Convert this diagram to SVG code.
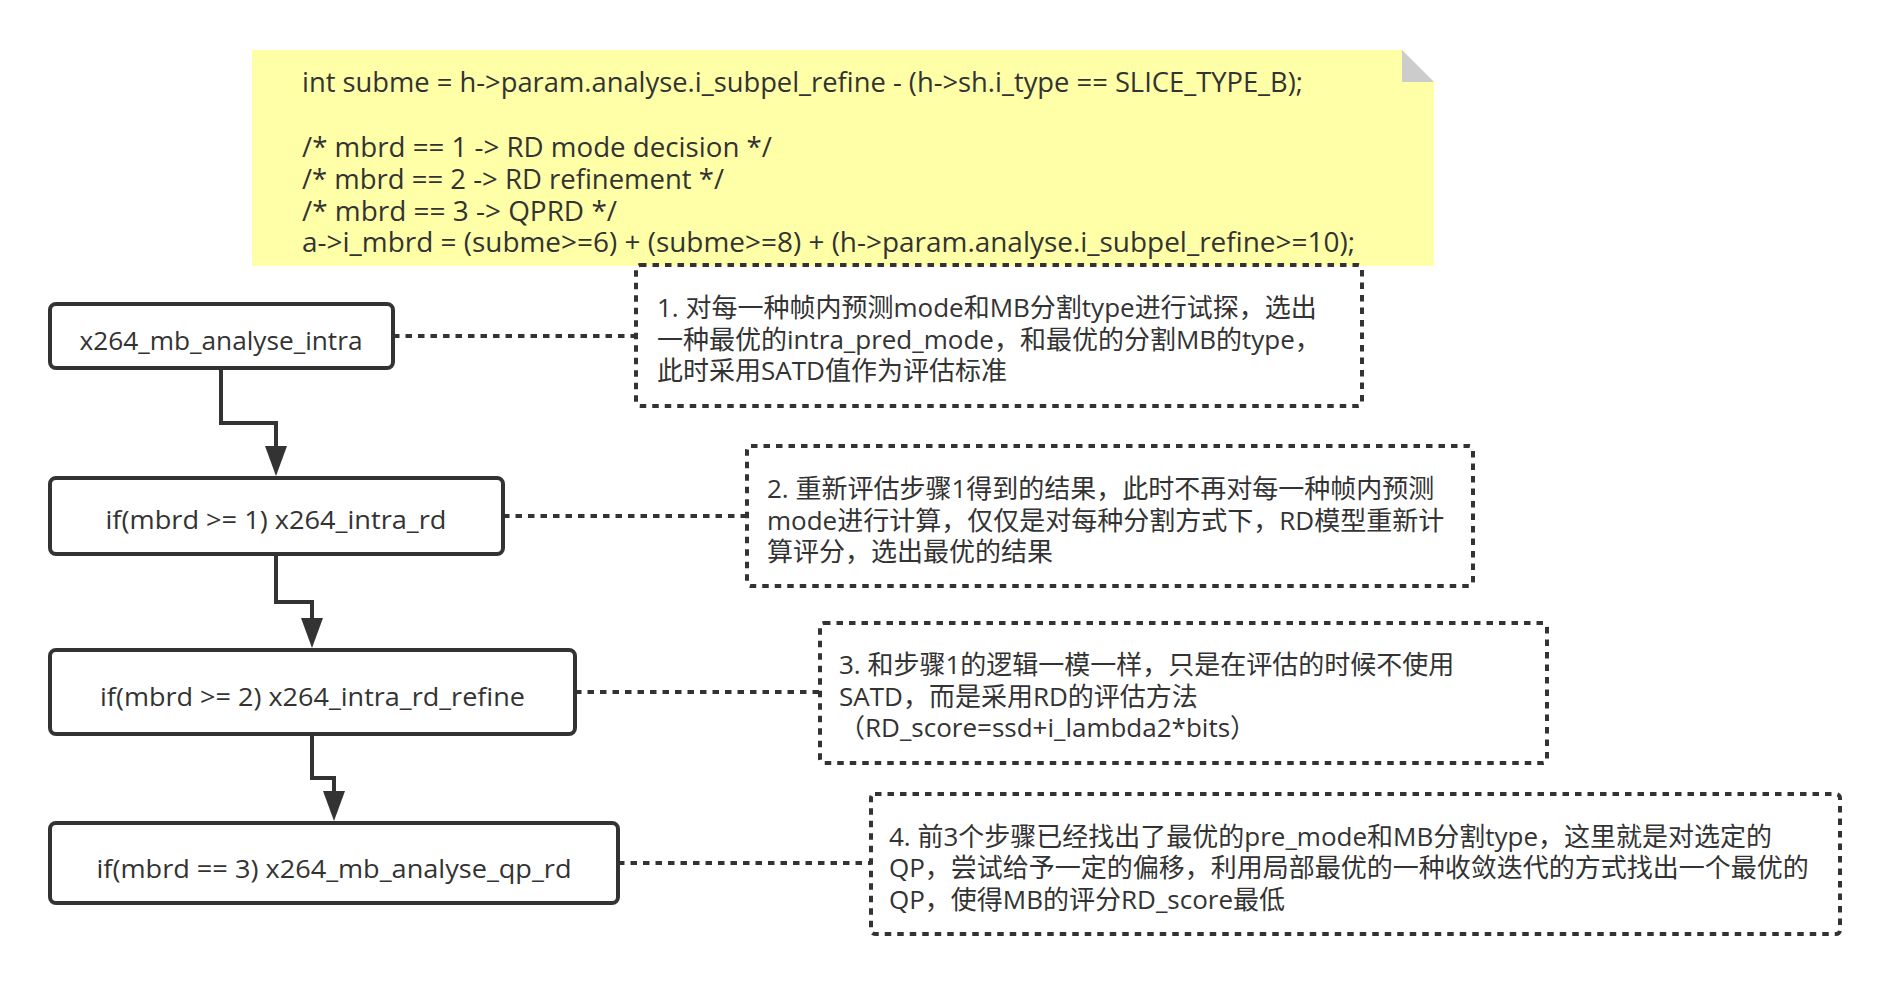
<svg xmlns="http://www.w3.org/2000/svg" width="1890" height="984" viewBox="0 0 1890 984">
<defs>
<style>
.t{font-family:"Open Sans","Noto Sans CJK SC",sans-serif;fill:#333333;}
.code{font-size:27px;}
.lbl{font-size:26px;text-anchor:middle;}
.nt{font-size:26px;}
.box{fill:#ffffff;stroke:#333333;stroke-width:4;}
.dbox{fill:none;stroke:#333333;stroke-width:4;stroke-dasharray:6.5 6;}
.dline{fill:none;stroke:#333333;stroke-width:4;stroke-dasharray:6.5 6;}
.edge{fill:none;stroke:#333333;stroke-width:4;}
</style>
<marker id="arr" markerUnits="userSpaceOnUse" markerWidth="32" markerHeight="22" viewBox="0 0 32 22" refX="0" refY="11" orient="auto">
<path d="M0,0 L30,11 L0,22 Z" fill="#333333"/>
</marker>
</defs>
<rect width="1890" height="984" fill="#ffffff"/>

<g id="code-note">
<path d="M252,50 L1402,50 L1434,82 L1434,266 L252,266 Z" fill="#ffffa8"/>
<path d="M1402,50 L1402,82 L1434,82 Z" fill="#cccccc"/>
<text class="t code" x="302" y="91.5" textLength="1001" lengthAdjust="spacingAndGlyphs">int subme = h-&gt;param.analyse.i_subpel_refine - (h-&gt;sh.i_type == SLICE_TYPE_B);</text>
<text class="t code" x="302" y="157" textLength="470" lengthAdjust="spacingAndGlyphs">/* mbrd == 1 -&gt; RD mode decision */</text>
<text class="t code" x="302" y="189" textLength="422" lengthAdjust="spacingAndGlyphs">/* mbrd == 2 -&gt; RD refinement */</text>
<text class="t code" x="302" y="221" textLength="315" lengthAdjust="spacingAndGlyphs">/* mbrd == 3 -&gt; QPRD */</text>
<text class="t code" x="302" y="252" textLength="1053" lengthAdjust="spacingAndGlyphs">a-&gt;i_mbrd = (subme&gt;=6) + (subme&gt;=8) + (h-&gt;param.analyse.i_subpel_refine&gt;=10);</text>
</g>

<g id="connectors">
<path class="edge" d="M221,368 L221,423 L276,423 L276,446" marker-end="url(#arr)"/>
<path class="edge" d="M276,554 L276,602 L312,602 L312,618" marker-end="url(#arr)"/>
<path class="edge" d="M312,734 L312,778 L334,778 L334,791" marker-end="url(#arr)"/>
<path class="dline" d="M393,336 L636,336"/>
<path class="dline" d="M503,516 L747,516"/>
<path class="dline" d="M575,692 L820,692"/>
<path class="dline" d="M618,863 L871,863"/>
</g>

<g id="n1">
<rect class="box" x="50" y="304" width="343" height="64" rx="6"/>
<text class="t lbl" x="221" y="350" textLength="283" lengthAdjust="spacingAndGlyphs">x264_mb_analyse_intra</text>
</g>
<g id="n2">
<rect class="box" x="50" y="478" width="453" height="76" rx="6"/>
<text class="t lbl" x="276" y="529" textLength="341" lengthAdjust="spacingAndGlyphs">if(mbrd &gt;= 1) x264_intra_rd</text>
</g>
<g id="n3">
<rect class="box" x="50" y="650" width="525" height="84" rx="6"/>
<text class="t lbl" x="312.5" y="706" textLength="425" lengthAdjust="spacingAndGlyphs">if(mbrd &gt;= 2) x264_intra_rd_refine</text>
</g>
<g id="n4">
<rect class="box" x="50" y="823" width="568" height="80" rx="6"/>
<text class="t lbl" x="334" y="878" textLength="475" lengthAdjust="spacingAndGlyphs">if(mbrd == 3) x264_mb_analyse_qp_rd</text>
</g>

<g id="note1">
<rect class="dbox" x="636" y="265" width="726" height="141" rx="4"/>
<text class="t nt" x="657" y="317">1. 对每一种帧内预测mode和MB分割type进行试探，选出</text>
<text class="t nt" x="657" y="348.5">一种最优的intra_pred_mode，和最优的分割MB的type，</text>
<text class="t nt" x="657" y="380">此时采用SATD值作为评估标准</text>
</g>
<g id="note2">
<rect class="dbox" x="747" y="446" width="726" height="140" rx="4"/>
<text class="t nt" x="767" y="498">2. 重新评估步骤1得到的结果，此时不再对每一种帧内预测</text>
<text class="t nt" x="767" y="529.5">mode进行计算，仅仅是对每种分割方式下，RD模型重新计</text>
<text class="t nt" x="767" y="561">算评分，选出最优的结果</text>
</g>
<g id="note3">
<rect class="dbox" x="820" y="623" width="727" height="140" rx="4"/>
<text class="t nt" x="839" y="674">3. 和步骤1的逻辑一模一样，只是在评估的时候不使用</text>
<text class="t nt" x="839" y="705.5">SATD，而是采用RD的评估方法</text>
<text class="t nt" x="839" y="737">（RD_score=ssd+i_lambda2*bits）</text>
</g>
<g id="note4">
<rect class="dbox" x="871" y="794" width="969" height="140" rx="4"/>
<text class="t nt" x="889" y="845.5">4. 前3个步骤已经找出了最优的pre_mode和MB分割type，这里就是对选定的</text>
<text class="t nt" x="889" y="877">QP，尝试给予一定的偏移，利用局部最优的一种收敛迭代的方式找出一个最优的</text>
<text class="t nt" x="889" y="908.5">QP，使得MB的评分RD_score最低</text>
</g>
</svg>
